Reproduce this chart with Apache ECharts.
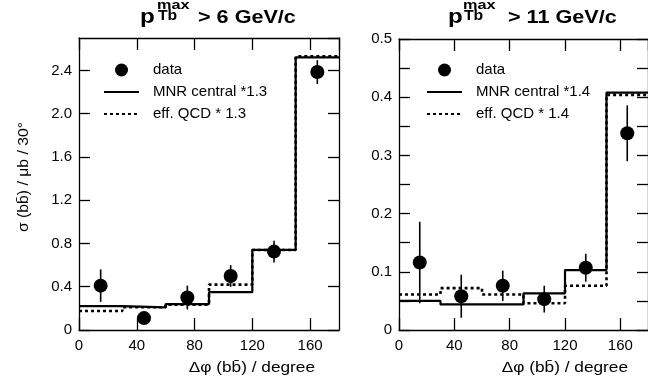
<!DOCTYPE html>
<html><head><meta charset="utf-8">
<script src="https://cdn.jsdelivr.net/npm/echarts@6/dist/echarts.min.js"></script>
<style>html,body{margin:0;padding:0;background:#fff}#c{width:648px;height:385px}</style>
</head><body><div id="c"></div>
<script>
// ---- data ----
const binEdges = [0, 30, 60, 90, 120, 150, 180];
const binCenters = [15, 45, 75, 105, 135, 165];
const xTicks = [0, 40, 80, 120, 160];
const yTicksLeft = [0, 0.4, 0.8, 1.2, 1.6, 2.0, 2.4];
const yTicksRight = [0, 0.1, 0.2, 0.3, 0.4, 0.5];

// left panel: pT > 6 GeV/c
const dataLeft = [0.41, 0.11, 0.30, 0.50, 0.725, 2.385];
const errLeft = [0.15, 0.04, 0.11, 0.10, 0.10, 0.11];
const mnrLeft = [0.22, 0.21, 0.24, 0.35, 0.74, 2.52];
const qcdLeft = [0.175, 0.21, 0.235, 0.42, 0.74, 2.53];

// right panel: pT > 11 GeV/c
const dataRight = [0.116, 0.058, 0.076, 0.053, 0.107, 0.338];
const errRight = [0.07, 0.037, 0.026, 0.023, 0.024, 0.048];
const mnrRight = [0.050, 0.044, 0.044, 0.063, 0.103, 0.408];
const qcdRight = [0.061, 0.072, 0.061, 0.046, 0.076, 0.404];

const namesLeft = ['data', 'MNR central *1.3', 'eff. QCD * 1.3'];
const namesRight = ['data', 'MNR central *1.4', 'eff. QCD * 1.4'];

// ---- helpers ----
const FONT = "'Liberation Sans', Arial, Helvetica, sans-serif";
const axisColor = '#000';
function fmt(v) { return v === 0 ? '0' : v.toFixed(1); }
function stepPts(vals) { return binEdges.map((e, i) => [e, vals[Math.min(i, vals.length - 1)]]); }
function pts(vals) { return binCenters.map((c, i) => [c, vals[i]]); }
function errPts(vals, errs) { return binCenters.map((c, i) => [c, vals[i] - errs[i], vals[i] + errs[i]]); }

function xAx(grid, pos) {
  return {
    gridIndex: grid, type: 'value', min: 0, max: 180, interval: 40, position: pos,
    axisLine: { show: true, onZero: false, lineStyle: { color: axisColor, width: 1.3 } },
    axisTick: { show: true, inside: true, length: 12, lineStyle: { color: axisColor, width: 1.3 } },
    axisLabel: { show: pos === 'bottom', color: '#000', fontSize: 15, fontFamily: FONT, margin: 8, showMaxLabel: false },
    splitLine: { show: false }
  };
}
function yAx(grid, pos, max, interval, minor) {
  return {
    gridIndex: grid, type: 'value', min: 0, max: max, interval: interval, position: pos,
    axisLine: { show: true, onZero: false, lineStyle: { color: axisColor, width: 1.3 } },
    axisTick: { show: true, inside: true, length: 11, lineStyle: { color: axisColor, width: 1.3 } },
    minorTick: { show: minor, splitNumber: 2, length: 11, lineStyle: { color: axisColor, width: 1.3 } },
    axisLabel: { show: pos === 'left', color: '#000', fontSize: 15, fontFamily: FONT, margin: 7,
      showMaxLabel: max === 0.5, formatter: fmt },
    splitLine: { show: false }
  };
}
function errSeries(xi, yi, vals, errs) {
  return {
    type: 'custom', name: 'err', xAxisIndex: xi, yAxisIndex: yi, silent: true,
    data: errPts(vals, errs), z: 3,
    renderItem: function (params, api) {
      const a = api.coord([api.value(0), api.value(1)]);
      const b = api.coord([api.value(0), api.value(2)]);
      return { type: 'line', shape: { x1: a[0], y1: a[1], x2: b[0], y2: b[1] },
        style: { stroke: '#000', lineWidth: 1.6 } };
    }
  };
}
function lineSeries(name, xi, yi, vals, dotted) {
  return {
    type: 'line', name: name, xAxisIndex: xi, yAxisIndex: yi, step: 'end', symbol: 'none',
    data: stepPts(vals), z: 2, animation: false,
    lineStyle: { color: '#000', width: dotted ? 2.6 : 2.2, type: dotted ? [3, 3] : 'solid' },
    itemStyle: { color: '#000' }
  };
}
function dotSeries(name, xi, yi, vals) {
  return {
    type: 'scatter', name: name, xAxisIndex: xi, yAxisIndex: yi, symbol: 'circle', symbolSize: 14,
    data: pts(vals), z: 4, itemStyle: { color: '#000', opacity: 1 }
  };
}
function legend(left, names) {
  const hidden = { color: 'rgba(0,0,0,0)', borderWidth: 0, opacity: 0 };
  return {
    orient: 'vertical', left: left, top: 62, padding: 0, itemWidth: 35, itemHeight: 13, itemGap: 6,
    selectedMode: false,
    data: [
      { name: names[0], itemStyle: { color: '#000', opacity: 1 } },
      { name: names[1], itemStyle: hidden },
      { name: names[2], itemStyle: hidden }
    ],
    textStyle: { color: '#000', fontSize: 15, fontFamily: FONT, lineHeight: 16, padding: [0, 0, 0, 9] }
  };
}
function txt(t, x, y, size, bold, sx, align, rot) {
  return { type: 'text', x: x, y: y, scaleX: sx || 1, rotation: rot || 0, silent: true,
    style: { text: t, fill: '#000', font: (bold ? 'bold ' : '') + size + 'px ' + FONT,
      align: align || 'left', verticalAlign: 'middle' } };
}

const bb = 'b' + 'b\u0304';
const option = {
  animation: false,
  backgroundColor: '#fff',
  grid: [
    { left: 79, top: 38, width: 260, height: 292 },
    { left: 399, top: 39, width: 260, height: 291 }
  ],
  xAxis: [xAx(0, 'bottom'), xAx(0, 'top'), xAx(1, 'bottom'), xAx(1, 'top')],
  yAxis: [yAx(0, 'left', 2.7, 0.4, false), yAx(0, 'right', 2.7, 0.4, false),
          yAx(1, 'left', 0.5, 0.1, true), yAx(1, 'right', 0.5, 0.1, true)],
  legend: [legend(103, namesLeft), legend(426, namesRight)],
  series: [
    lineSeries(namesLeft[1], 0, 0, mnrLeft, false),
    lineSeries(namesLeft[2], 0, 0, qcdLeft, true),
    errSeries(0, 0, dataLeft, errLeft),
    dotSeries(namesLeft[0], 0, 0, dataLeft),
    lineSeries(namesRight[1], 2, 2, mnrRight, false),
    lineSeries(namesRight[2], 2, 2, qcdRight, true),
    errSeries(2, 2, dataRight, errRight),
    dotSeries(namesRight[0], 2, 2, dataRight)
  ],
  graphic: [
    txt('p', 140, 17, 21, true, 1.15),
    txt('max', 157, 5, 13, true, 1.25),
    txt('Tb', 158, 16, 15, true, 1.05),
    txt('> 6 GeV/c', 198, 18, 18, true, 1.2),
    txt('p', 448, 17, 21, true, 1.15),
    txt('max', 463, 5, 13, true, 1.25),
    txt('Tb', 464, 16, 15, true, 1.05),
    txt('> 11 GeV/c', 508, 18, 18, true, 1.2),
    txt('\u0394\u03c6 (' + bb + ') / degree', 315, 368, 15, false, 1.15, 'right'),
    txt('\u0394\u03c6 (' + bb + ') / degree', 628, 368, 15, false, 1.15, 'right'),
    txt('\u03c3 (' + bb + ') / \u03bcb / 30\u00b0', 24, 177, 15, false, 1.05, 'center', Math.PI / 2)
  ]
};
const chart = echarts.init(document.getElementById('c'), null, { renderer: 'canvas' });
chart.setOption(option);
</script></body></html>
